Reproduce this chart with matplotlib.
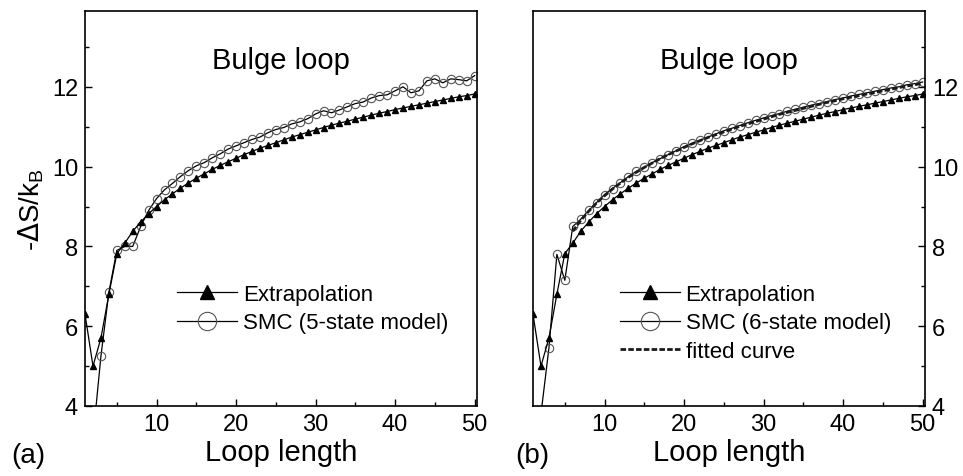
import matplotlib
matplotlib.use("Agg")
import matplotlib.pyplot as plt
from matplotlib.ticker import MultipleLocator
import numpy as np

plt.rcParams['font.family'] = ['Liberation Sans', 'DejaVu Sans']

# loop length 1..50
loop_len = np.arange(1, 51)

# Jacobson-Stockmayer style extrapolation (same in both panels)
extrap = [6.3, 5.0, 5.7, 6.8, 7.82, 8.08, 8.38, 8.61, 8.82, 9.00,
          9.17, 9.32, 9.46, 9.59, 9.71, 9.82, 9.93, 10.03, 10.12, 10.21,
          10.30, 10.38, 10.46, 10.53, 10.60, 10.67, 10.74, 10.80, 10.86, 10.92,
          10.98, 11.04, 11.09, 11.14, 11.19, 11.24, 11.29, 11.34, 11.38, 11.43,
          11.47, 11.51, 11.55, 11.59, 11.63, 11.67, 11.71, 11.75, 11.78, 11.82]

# SMC, 5-state model (panel a)
smc5 = [np.nan, 3.2, 5.25, 6.85, 7.9, 8.0, 8.0, 8.5, 8.9, 9.2,
        9.42, 9.58, 9.75, 9.9, 10.02, 10.1, 10.22, 10.32, 10.44, 10.52,
        10.6, 10.68, 10.74, 10.85, 10.93, 10.98, 11.07, 11.12, 11.2, 11.32,
        11.4, 11.35, 11.42, 11.5, 11.58, 11.62, 11.72, 11.78, 11.8, 11.9,
        12.0, 11.85, 11.9, 12.15, 12.2, 12.1, 12.2, 12.18, 12.15, 12.28]

# SMC, 6-state model (panel b)
smc6 = [np.nan, 3.8, 5.45, 7.8, 7.15, 8.5, 8.68, 8.9, 9.1, 9.3,
        9.45, 9.6, 9.75, 9.88, 9.98, 10.1, 10.2, 10.3, 10.4, 10.5,
        10.58, 10.66, 10.74, 10.82, 10.9, 10.96, 11.03, 11.1, 11.16, 11.22,
        11.28, 11.33, 11.39, 11.44, 11.49, 11.54, 11.58, 11.63, 11.68, 11.72,
        11.77, 11.81, 11.85, 11.89, 11.93, 11.97, 12.0, 12.05, 12.08, 12.12]

# fitted curve for the 6-state data, loop length 6..50
fit_len = np.arange(6, 51)
fitted = [8.38, 8.65, 8.88, 9.09, 9.27, 9.44, 9.59, 9.73, 9.86, 9.98,
          10.09, 10.20, 10.30, 10.39, 10.48, 10.57, 10.65, 10.73, 10.80, 10.87,
          10.94, 11.01, 11.07, 11.13, 11.19, 11.25, 11.31, 11.36, 11.41, 11.46,
          11.51, 11.56, 11.61, 11.65, 11.70, 11.74, 11.78, 11.82, 11.86, 11.90,
          11.94, 11.98, 12.02, 12.05, 12.09]

fig = plt.figure(figsize=(9.63, 4.77), dpi=100)
ax_a = fig.add_axes([0.0883, 0.1468, 0.407, 0.828])
ax_b = fig.add_axes([0.5535, 0.1468, 0.407, 0.828])


def style_axis(ax, right=False):
    ax.set_xlim(1, 50.3)
    ax.set_ylim(4, 13.9)
    ax.xaxis.set_major_locator(MultipleLocator(10))
    ax.xaxis.set_minor_locator(MultipleLocator(5))
    ax.yaxis.set_major_locator(MultipleLocator(2))
    ax.yaxis.set_minor_locator(MultipleLocator(1))
    for sp in ax.spines.values():
        sp.set_linewidth(1.2)
    ax.tick_params(which='both', direction='in', width=1.0, labelsize=17,
                   top=False, left=not right, right=right,
                   labelleft=not right, labelright=right)
    ax.tick_params(which='major', length=5, pad=5)
    ax.tick_params(which='minor', length=3)
    ax.set_xlabel('Loop length', fontsize=21, labelpad=2)
    ax.text(0.5, 0.875, 'Bulge loop', transform=ax.transAxes,
            ha='center', va='center', fontsize=21)


def plot_common(ax, smc, smc_label):
    ax.plot(loop_len, extrap, color='black', lw=0.9, marker='^', ms=4.5,
            mfc='black', mec='black', label='Extrapolation', zorder=3)
    ax.plot(loop_len, smc, color='black', lw=0.9, marker='o', ms=6,
            mfc='none', mec='#555555', mew=0.8, label=smc_label, zorder=2)


def add_legend(ax, x0):
    ax.legend(loc='upper left', bbox_to_anchor=(x0, 0.31), frameon=False,
              fontsize=16, handlelength=2.7, handletextpad=0.25,
              labelspacing=0.35, borderpad=0, borderaxespad=0,
              markerscale=2.2)


plot_common(ax_a, smc5, 'SMC (5-state model)')
style_axis(ax_a)
ax_a.set_ylabel(r'-$\Delta$S/k$_\mathregular{B}$', fontsize=20, labelpad=4)
add_legend(ax_a, 0.235)

plot_common(ax_b, smc6, 'SMC (6-state model)')
ax_b.plot(fit_len, fitted, color='#1a1a1a', lw=2.0, ls=(0, (2, 0.8)),
          label='fitted curve', zorder=4)
style_axis(ax_b, right=True)
add_legend(ax_b, 0.222)

fig.text(0.012, 0.045, '(a)', fontsize=20, ha='left', va='center')
fig.text(0.535, 0.045, '(b)', fontsize=20, ha='left', va='center')

fig.savefig('out.png', dpi=100)
